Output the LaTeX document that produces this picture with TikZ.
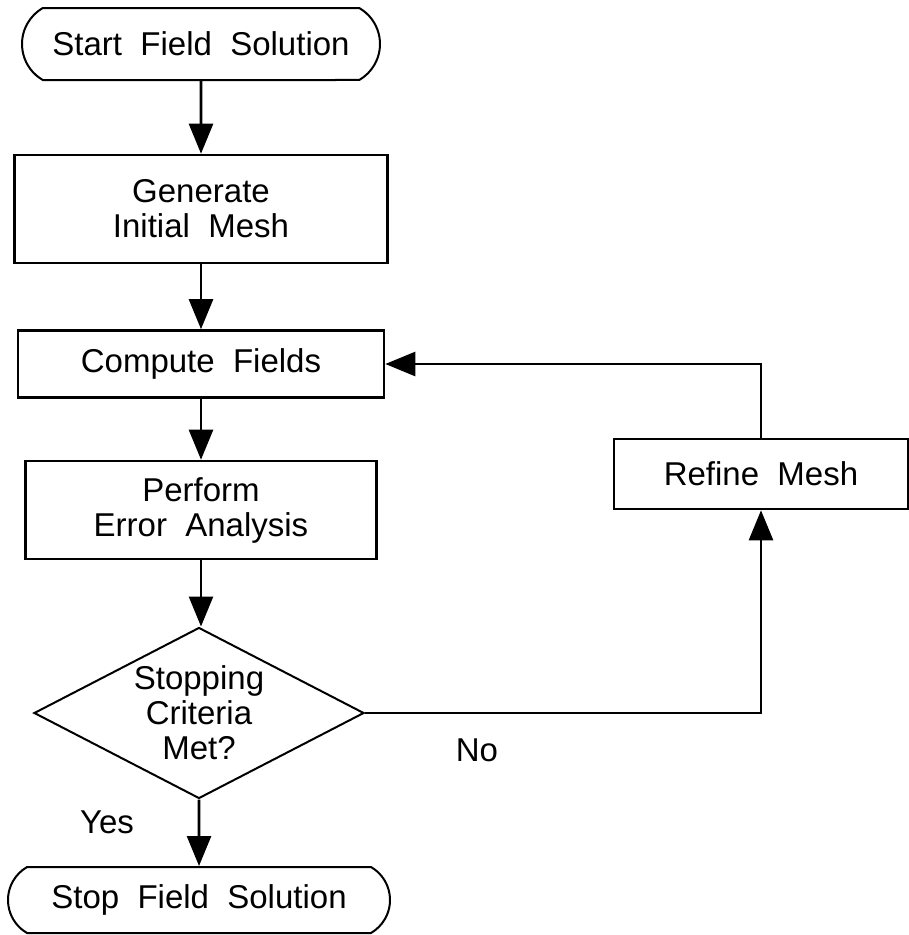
\documentclass[tikz,border=0pt]{standalone}
\usepackage{fontspec}
\setmainfont{Liberation Sans}[WordSpace=2]
\usepackage{tikz}
\usetikzlibrary{shapes, arrows.meta, positioning}

\begin{document}
\begin{tikzpicture}[x=1pt, y=-1pt,
        every node/.style={font=\fontsize{33}{35}\selectfont},
        box/.style={draw, line width=2.6pt, rectangle, align=center, inner sep=0pt},
        term/.style={draw, line width=2pt, rounded rectangle, rounded rectangle arc length=120, inner sep=0pt},
        test/.style={draw, line width=2pt, diamond, aspect=1.93, inner sep=0pt, align=center},
        arr/.style={-{Triangle[length=30pt, width=24pt]}, line width=2.6pt}]
        \useasboundingbox (0,0) rectangle (909,935);

        % Main flow
        \node[term, minimum width=358pt, minimum height=72pt] (start) at (201,44) {Start Field Solution};
        \node[box, minimum width=373pt, minimum height=108pt] (mesh) at (201,209) {Generate\\Initial Mesh};
        \node[box, minimum width=366pt, minimum height=67pt] (fields) at (201,364) {Compute Fields};
        \node[box, minimum width=351pt, minimum height=98pt] (error) at (201,510) {Perform\\Error Analysis};
        \node[test, minimum width=330pt, minimum height=171pt] (crit) at (199,713) {Stopping\\Criteria\\Met?};
        \node[term, minimum width=382pt, minimum height=66pt] (stop) at (199,900) {Stop Field Solution};

        % Loop back
        \node[box, minimum width=294pt, minimum height=70pt] (refine) at (761,474) {Refine Mesh};

        \draw[arr] (start) -- (mesh);
        \draw[arr] (mesh) -- (fields);
        \draw[arr] (fields) -- (error);
        \draw[arr] (error.south) -- (error.south |- crit.north);
        \draw[arr] (crit) -- (stop);
        \draw[arr] (crit.east) -| (refine.south);
        \draw[arr] (refine.north) |- (fields.east);

        % Labels
        \node (no) at (477,750) {No};
        \node (yes) at (107,822) {Yes};

    \end{tikzpicture}
\end{document}
